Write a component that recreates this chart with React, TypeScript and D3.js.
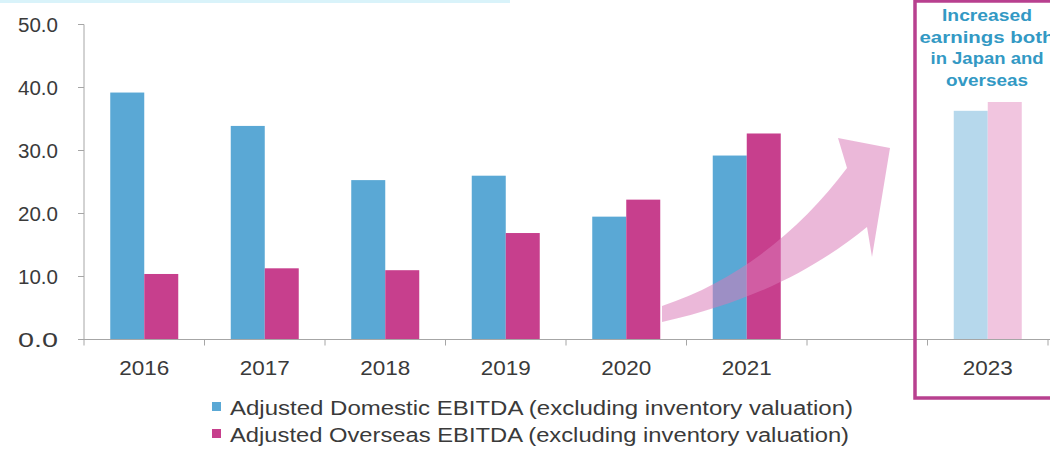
import React, { useEffect } from "react";
import * as d3 from "d3";

const categories = ["2016", "2017", "2018", "2019", "2020", "2021", "2022", "2023"];
const categoryLabels = ["2016", "2017", "2018", "2019", "2020", "2021", "", "2023"];
const domesticValues: (number | null)[] = [39.2, 33.9, 25.3, 26.0, 19.5, 29.2, null, 36.3];
const overseasValues: (number | null)[] = [10.4, 11.3, 11.0, 16.9, 22.2, 32.7, null, 37.7];
const yTicks = [0, 10, 20, 30, 40, 50];
const seriesNames = [
  "Adjusted Domestic EBITDA (excluding inventory valuation)",
  "Adjusted Overseas EBITDA (excluding inventory valuation)",
];
const annotationLines = ["Increased", "earnings both", "in Japan and", "overseas"];
const forecastCategory = "2023";

const W = 1050;
const H = 452;
const FONT = "'Liberation Sans', Arial, sans-serif";

export default function App() {
  useEffect(() => {
    document.body.style.margin = "0";
  }, []);

  const x = d3.scaleBand<string>().domain(categories).range([84, 1048]).padding(0);
  const y = d3.scaleLinear().domain([0, 50]).range([339.5, 24.5]);
  const fmt = d3.format(".1f");
  const barW = 34;

  const colors = {
    dom: "#5AA8D5",
    ovs: "#C73F8D",
    domLight: "#B6D8EC",
    ovsLight: "#F1C5DF",
  };

  const arrowPath =
    "M662,306 C740,280 800,230 847,168 L838,138 L890,148 L872,257 L867,227 C820,265 760,300 662,322 Z";

  const annWidths = [90, 135, 113, 82];
  const textColor = "#3A3A3A";

  return (
    <svg width={W} height={H} style={{ display: "block", background: "#fff" }} fontFamily={FONT}>
      <rect x={0} y={0} width={510} height={3} fill="#D9F3FA" />
      {categories.map((c, i) => {
        const cx = (x(c) as number) + x.bandwidth() / 2;
        const d = domesticValues[i];
        const o = overseasValues[i];
        const light = c === forecastCategory;
        return (
          <g key={c}>
            {d != null && (
              <rect x={cx - barW} y={y(d)} width={barW} height={y(0) - y(d)} fill={light ? colors.domLight : colors.dom} />
            )}
            {o != null && (
              <rect x={cx} y={y(o)} width={barW} height={y(0) - y(o)} fill={light ? colors.ovsLight : colors.ovs} />
            )}
          </g>
        );
      })}
      <path d={arrowPath} fill="#D979B7" fillOpacity={0.53} />
      <line x1={84} x2={84} y1={y(50)} y2={y(0)} stroke="#A6A6A6" strokeWidth={1} />
      {yTicks.map((t) => (
        <g key={t}>
          <line x1={78} x2={84} y1={y(t)} y2={y(t)} stroke="#A6A6A6" />
          <text x={58} y={y(t)} dy="0.36em" textAnchor="end" fontSize={20} fill={textColor} textLength={40} lengthAdjust="spacingAndGlyphs">
            {fmt(t)}
          </text>
        </g>
      ))}
      <line x1={84} x2={W} y1={y(0)} y2={y(0)} stroke="#A6A6A6" />
      {categories.map((c) => (
        <line key={"t" + c} x1={x(c) as number} x2={x(c) as number} y1={y(0)} y2={y(0) + 6} stroke="#A6A6A6" />
      ))}
      <line x1={1048} x2={1048} y1={y(0)} y2={y(0) + 6} stroke="#A6A6A6" />
      {categories.map((c, i) =>
        categoryLabels[i] ? (
          <text key={"l" + c} x={(x(c) as number) + x.bandwidth() / 2} y={375} textAnchor="middle" fontSize={20} fill={textColor} textLength={50} lengthAdjust="spacingAndGlyphs">
            {categoryLabels[i]}
          </text>
        ) : null
      )}
      <rect x={915} y={1} width={160} height={397} fill="none" stroke="#B8408F" strokeWidth={3.5} />
      {annotationLines.map((l, i) => (
        <text key={l} x={987} y={21 + i * 21.7} textAnchor="middle" fontSize={16} fontWeight="bold" fill="#3399C4" textLength={annWidths[i]} lengthAdjust="spacingAndGlyphs">
          {l}
        </text>
      ))}
      {seriesNames.map((s, i) => (
        <g key={s}>
          <rect x={212} y={402 + i * 27} width={9} height={9} fill={i === 0 ? colors.dom : colors.ovs} />
          <text x={230} y={415 + i * 27} fontSize={20} fill={textColor} textLength={i === 0 ? 623 : 619} lengthAdjust="spacingAndGlyphs">
            {s}
          </text>
        </g>
      ))}
    </svg>
  );
}
